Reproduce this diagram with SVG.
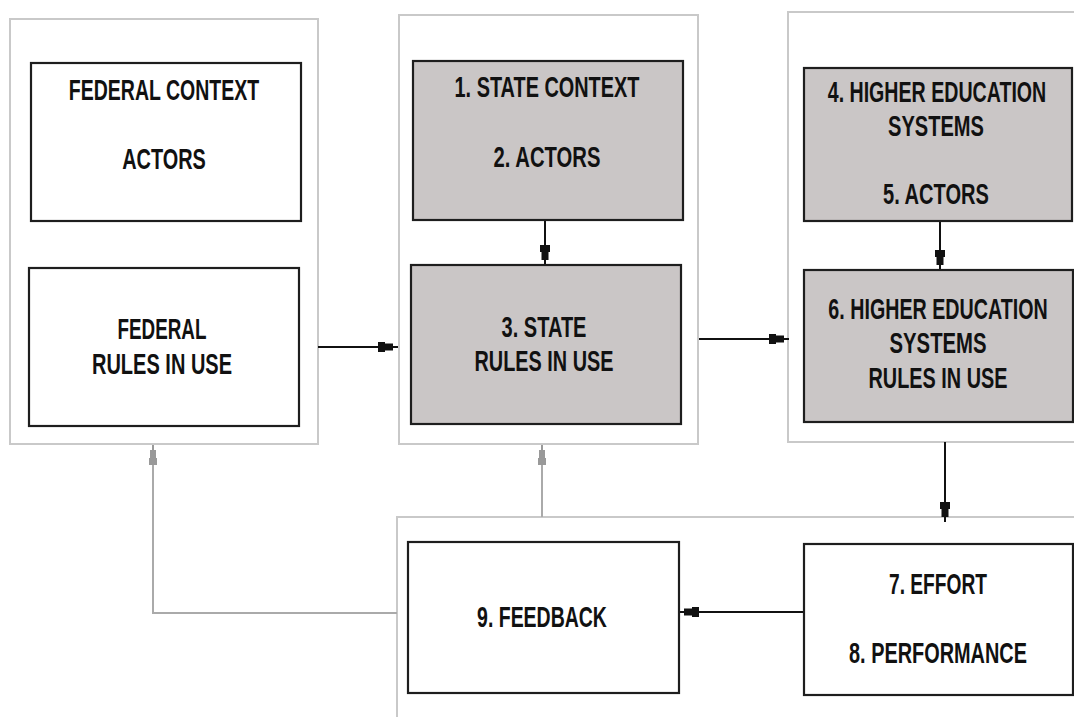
<svg xmlns="http://www.w3.org/2000/svg" width="1074" height="717" viewBox="0 0 1074 717">
<style>
.panel{fill:#ffffff;stroke:#c9c9c9;stroke-width:2}
.box{fill:#ffffff;stroke:#1e1e1e;stroke-width:2.2}
.shaded{fill:#cac6c6}
.lbl{font-family:"Liberation Sans",Arial,sans-serif;font-weight:bold;font-size:29px;fill:#111;text-anchor:middle}
.conn{fill:none;stroke:#111;stroke-width:2}
.fb{fill:none;stroke:#aaaaaa;stroke-width:2}
</style>
<defs>
<marker id="ah" markerUnits="userSpaceOnUse" viewBox="-22 -7 23 14" refX="0" refY="0" markerWidth="23" markerHeight="14" orient="auto">
<path d="M-20,-5 L-13,-5 L-13,-3.5 L-5,-3.5 L-5,-1 L0,-1 L0,1 L-5,1 L-5,3.5 L-13,3.5 L-13,5 L-20,5 Z" fill="#111"/>
</marker>
<marker id="ahg" markerUnits="userSpaceOnUse" viewBox="-22 -7 23 14" refX="0" refY="0" markerWidth="23" markerHeight="14" orient="auto">
<path d="M-20,-4 L-13,-4 L-13,-3 L-5,-3 L-5,-1 L0,-1 L0,1 L-5,1 L-5,3 L-13,3 L-13,4 L-20,4 Z" fill="#999"/>
</marker>
</defs>
<rect width="1074" height="717" fill="#ffffff"/>

<g id="panel-federal"><rect class="panel" x="10" y="19" width="308" height="425"/></g>
<g id="panel-state"><rect class="panel" x="399" y="15" width="299" height="429"/></g>
<g id="panel-he"><rect class="panel" x="788" y="12" width="300" height="430"/></g>
<g id="panel-outcome"><rect class="panel" x="397" y="517" width="690" height="215"/></g>

<g id="connectors">
<line class="conn" x1="318" y1="347" x2="398" y2="347" marker-end="url(#ah)"/>
<line class="conn" x1="545" y1="220" x2="545" y2="265" marker-end="url(#ah)"/>
<line class="conn" x1="699" y1="339" x2="789" y2="339" marker-end="url(#ah)"/>
<line class="conn" x1="940" y1="221" x2="940" y2="270" marker-end="url(#ah)"/>
<line class="conn" x1="945" y1="442" x2="945" y2="522" marker-end="url(#ah)"/>
<line class="conn" x1="804" y1="612" x2="679" y2="612" marker-end="url(#ah)"/>
<polyline class="fb" points="397,613 153,613 153,445" marker-end="url(#ahg)"/>
<line class="fb" x1="542" y1="517" x2="542" y2="445" marker-end="url(#ahg)"/>
</g>

<g id="federal-context">
<rect class="box" x="31" y="63" width="270" height="158"/>
<text class="lbl" transform="translate(164,100) scale(0.673,1)">FEDERAL CONTEXT</text>
<text class="lbl" transform="translate(164,169) scale(0.686,1)">ACTORS</text>
</g>
<g id="federal-rules">
<rect class="box" x="29" y="268" width="270" height="158"/>
<text class="lbl" transform="translate(162,339) scale(0.650,1)">FEDERAL</text>
<text class="lbl" transform="translate(162,374) scale(0.690,1)">RULES IN USE</text>
</g>

<g id="state-context">
<rect class="box shaded" x="413" y="61" width="270" height="159"/>
<text class="lbl" transform="translate(547,97) scale(0.686,1)">1. STATE CONTEXT</text>
<text class="lbl" transform="translate(547,167) scale(0.698,1)">2. ACTORS</text>
</g>
<g id="state-rules">
<rect class="box shaded" x="411" y="265" width="270" height="159"/>
<text class="lbl" transform="translate(544,337) scale(0.691,1)">3. STATE</text>
<text class="lbl" transform="translate(544,371) scale(0.685,1)">RULES IN USE</text>
</g>

<g id="he-systems">
<rect class="box shaded" x="804" y="68" width="268" height="153"/>
<text class="lbl" transform="translate(937,102) scale(0.676,1)">4. HIGHER EDUCATION</text>
<text class="lbl" transform="translate(936,136) scale(0.693,1)">SYSTEMS</text>
<text class="lbl" transform="translate(936,204) scale(0.692,1)">5. ACTORS</text>
</g>
<g id="he-rules">
<rect class="box shaded" x="804" y="270" width="269" height="152"/>
<text class="lbl" transform="translate(938,319) scale(0.679,1)">6. HIGHER EDUCATION</text>
<text class="lbl" transform="translate(938,353) scale(0.700,1)">SYSTEMS</text>
<text class="lbl" transform="translate(938,388) scale(0.685,1)">RULES IN USE</text>
</g>

<g id="feedback">
<rect class="box" x="408" y="542" width="271" height="151"/>
<text class="lbl" transform="translate(542,627) scale(0.672,1)">9. FEEDBACK</text>
</g>
<g id="effort-performance">
<rect class="box" x="804" y="544" width="269" height="151"/>
<text class="lbl" transform="translate(938,594) scale(0.661,1)">7. EFFORT</text>
<text class="lbl" transform="translate(938,663) scale(0.686,1)">8. PERFORMANCE</text>
</g>
</svg>
